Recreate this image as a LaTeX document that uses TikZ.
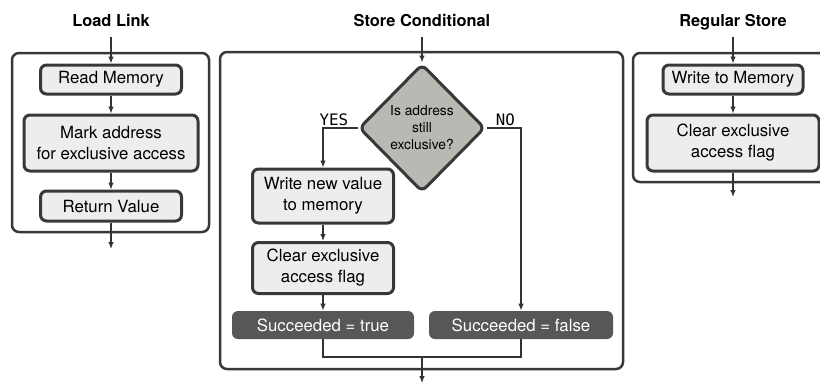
\documentclass[tikz,border=0pt]{standalone}
\usepackage{fontspec}
\setmainfont{TeX Gyre Heros}
\setmonofont{DejaVu Sans Mono}
\usepackage{tikz}
\usetikzlibrary{shapes.geometric,arrows.meta}
\definecolor{boxfill}{HTML}{EDEDED}
\definecolor{boxline}{HTML}{383838}
\definecolor{condfill}{HTML}{B7B9B2}
\definecolor{resfill}{HTML}{575757}
\definecolor{linecol}{HTML}{333333}
\tikzstyle{title}=[anchor=base, inner sep=0pt, font=\fontsize{8.2}{10}\selectfont\bfseries]
\tikzstyle{panel}=[draw=boxline, line width=1.25pt, rounded corners=3.5pt]
\tikzstyle{op}=[rectangle, draw=boxline, line width=1.5pt, fill=boxfill, rounded corners=3pt, align=center, inner sep=0pt, font=\fontsize{8.4}{10.5}\selectfont]
\tikzstyle{cond}=[diamond, draw=boxline, line width=1.5pt, fill=condfill, rounded corners=3pt, align=center, inner sep=0pt, minimum width=63pt, minimum height=64pt, font=\fontsize{6.9}{8.5}\selectfont]
\tikzstyle{result}=[rectangle, fill=resfill, text=white, rounded corners=3pt, inner sep=0pt, minimum height=14pt, font=\fontsize{8.4}{10.5}\selectfont]
\tikzstyle{lbl}=[inner sep=0pt, font=\ttfamily\fontsize{7.9}{10}\selectfont]
\tikzstyle{edge}=[-{Latex[length=3.5pt,width=2.8pt]}, line width=0.6pt, draw=linecol]
\tikzstyle{wire}=[-, line width=0.6pt, draw=linecol]
\begin{document}
\begin{tikzpicture}[x=0.5pt,y=-0.5pt]
				\clip (0,0) rectangle (820,388);
				
				%Load Link
				\draw (111,26) node[title] (ll) {Load Link};
				\draw[panel] (12,53) rectangle (209,232);
				\coordinate (llin) at (111,37);
				\coordinate (llout) at (111,249);
				\draw (111,79.5) node[op, minimum width=70.5pt, minimum height=14.5pt] (rm) {Read Memory};
				\draw (111,143) node[op, minimum width=87pt, minimum height=28pt] (ma) {Mark address\\for exclusive access};
				\draw (111,206) node[op, minimum width=70.5pt, minimum height=15pt] (rv) {Return Value};
				
				\draw[edge] (llin) -- (rm);
				\draw[edge] (rm) -- (ma);
				\draw[edge] (ma) -- (rv);
				\draw[edge] (rv) -- (llout);
				
				%Store Conditional
				\draw (422,26) node[title] (sc) {Store Conditional};
				\draw[panel] (220,52) rectangle (623,369);
				\coordinate (scin) at (422,37);
				\coordinate (merge) at (422,357);
				\coordinate (scout) at (422,383);
				\draw (422,128) node[cond] (dm) {Is address\\still\\exclusive?};
				\draw (323,196) node[op, minimum width=70.5pt, minimum height=27pt] (wn) {Write new value\\to memory};
				\draw (323,268) node[op, minimum width=70.5pt, minimum height=25.5pt] (ce) {Clear exclusive\\access flag};
				\draw (323,325) node[result, minimum width=91pt] (st) {Succeeded = true};
				\draw (521,325) node[result, minimum width=92pt] (sf) {Succeeded = false};
				\draw ([xshift=-4.5pt,yshift=1.2pt]dm.west) node[lbl, anchor=base east] (yes) {YES};
				\draw ([xshift=4.5pt,yshift=1.2pt]dm.east) node[lbl, anchor=base west] (no) {NO};
				
				\draw[edge] (scin) -- (dm);
				\draw[edge] (dm.west) -| (wn);
				\draw[edge] (dm.east) -| (sf);
				\draw[edge] (wn) -- (ce);
				\draw[edge] (ce) -- (st);
				\draw[wire] (st) |- (merge) -| (sf);
				\draw[edge] (merge) -- (scout);
				
				%Regular Store
				\draw (733,26) node[title] (rs) {Regular Store};
				\draw[panel] (633,53) rectangle (860,182);
				\coordinate (rsin) at (733,37);
				\coordinate (rsout) at (733,197);
				\draw (733,79.5) node[op, minimum width=70pt, minimum height=14.5pt] (wm) {Write to Memory};
				\draw (733,143) node[op, minimum width=86pt, minimum height=28pt] (cf) {Clear exclusive\\access flag};
				
				\draw[edge] (rsin) -- (wm);
				\draw[edge] (wm) -- (cf);
				\draw[edge] (cf) -- (rsout);
			\end{tikzpicture}
\end{document}
